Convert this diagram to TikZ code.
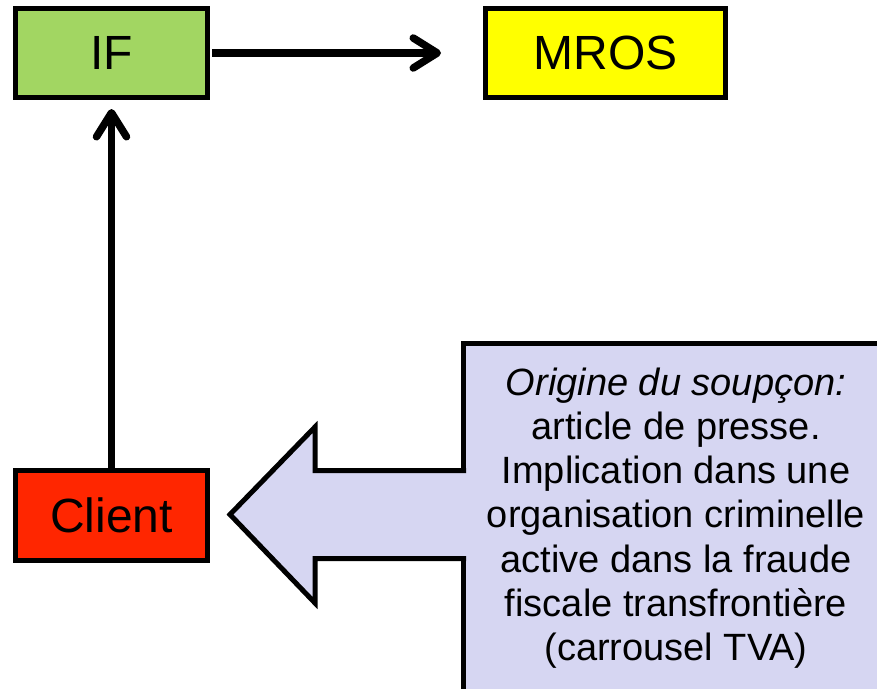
\documentclass[tikz,border=0pt]{standalone}
\usepackage{fontspec}
\setmainfont{Liberation Sans}
\usetikzlibrary{arrows.meta}
\definecolor{ifgreen}{RGB}{162,214,98}
\definecolor{mrosyellow}{RGB}{255,255,0}
\definecolor{clientred}{RGB}{255,38,0}
\definecolor{lavender}{RGB}{214,214,242}
\begin{document}
\begin{tikzpicture}[x=1pt,y=-1pt,line join=miter,
  box/.style={draw=black,line width=5pt,minimum width=#1,minimum height=89pt,inner sep=0pt,
    font=\fontsize{48}{58}\selectfont},
  conn/.style={line width=7.5pt,-{Straight Barb[length=24pt,width=30pt,round]}},
  note/.style={draw=black,fill=lavender,line width=5pt,minimum width=425pt,minimum height=349pt,
    inner sep=0pt,align=center,font=\fontsize{38}{44.2}\selectfont}]
\useasboundingbox (0,0) rectangle (877,688);
\clip (0,0) rectangle (877,688);
\node[box=192pt,fill=ifgreen] (if) at (111.5,53) {IF};
\node[box=240pt,fill=mrosyellow] (mros) at (605.5,53) {MROS};
\node[box=192pt,fill=clientred,minimum height=90pt] (client) at (111.5,515.5) {Client};
\node[note] (note) at (676,518) {\textit{Origine du soupçon:}\\article de presse.\\Implication dans une\\organisation criminelle\\active dans la fraude\\fiscale transfrontière\\(carrousel TVA)};
% block arrow
\fill[lavender] (230,514.5) -- (315,427) -- (315,470.5) -- (467,470.5) -- (467,558.5) -- (315,558.5) -- (315,603) -- cycle;
\draw[line width=5pt] (466,470.5) -- (315,470.5) -- (315,427) -- (230,514.5) -- (315,603) -- (315,558.5) -- (466,558.5);
% connectors
\draw[conn,shorten <=2pt,shorten >=42pt] (if.east) -- (mros.west);
\draw[conn,shorten >=9pt] (client.north) -- (if.south);
\end{tikzpicture}
\end{document}
